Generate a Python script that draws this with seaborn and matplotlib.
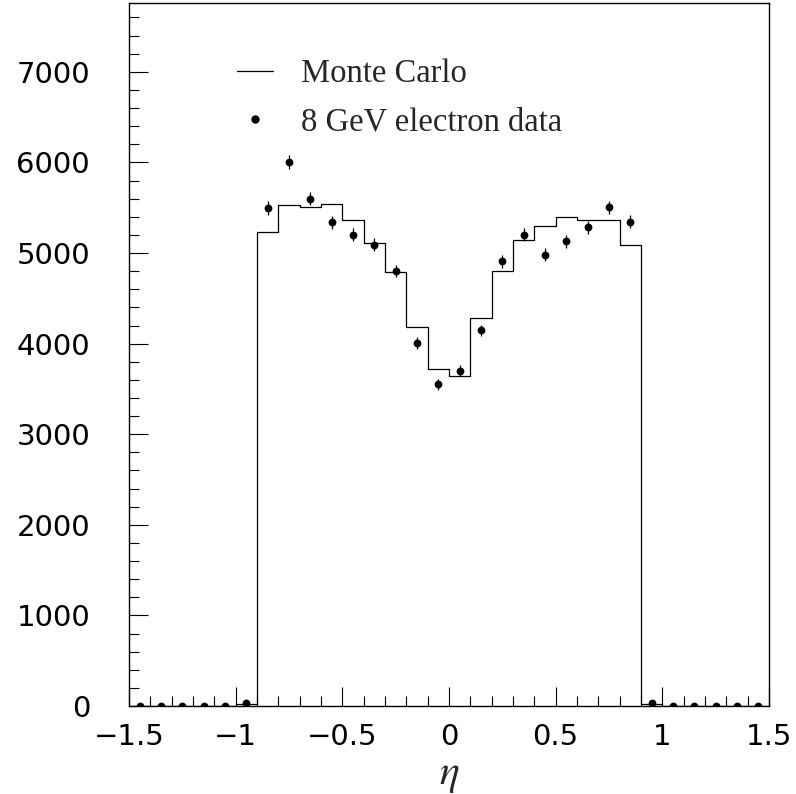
import numpy as np
import pandas as pd
import matplotlib
matplotlib.use("Agg")
import matplotlib.pyplot as plt
import seaborn as sns
from matplotlib.lines import Line2D
from matplotlib.ticker import MultipleLocator

# ---- data ----
bin_edges = [round(-1.5 + 0.1 * i, 1) for i in range(31)]
bin_centers = [round(-1.45 + 0.1 * i, 2) for i in range(30)]

monte_carlo = [0, 0, 0, 0, 0, 25,
               5235, 5535, 5510, 5545, 5360, 5110, 4790, 4185, 3715,
               3640, 4285, 4800, 5140, 5300, 5395, 5360, 5368, 5088,
               18, 0, 0, 0, 0, 0]

electron_data = [0, 0, 0, 0, 0, 35,
                 5495, 6010, 5600, 5340, 5200, 5090, 4800, 4005, 3550,
                 3700, 4145, 4910, 5200, 4980, 5130, 5285, 5505, 5345,
                 28, 0, 0, 0, 0, 0]

x_ticks = [-1.5, -1, -0.5, 0, 0.5, 1, 1.5]
x_tick_labels = ["\u22121.5", "\u22121", "\u22120.5", "0", "0.5", "1", "1.5"]
y_ticks = [0, 1000, 2000, 3000, 4000, 5000, 6000, 7000]
legend_labels = ["Monte Carlo", "8 GeV electron data"]

df = pd.DataFrame({"eta": bin_centers, "mc": monte_carlo, "data": electron_data})
df["err"] = np.sqrt(df["data"])

# ---- figure ----
sns.set_theme(style="white")
plt.rcParams["mathtext.fontset"] = "stix"
plt.rcParams["font.family"] = ["DejaVu Sans"]

fig = plt.figure(figsize=(7.96, 7.94), dpi=100)
ax = fig.add_axes([129 / 796, 1 - 706 / 794, (769 - 129) / 796, (706 - 3) / 794])

sns.histplot(data=df, x="eta", weights="mc", bins=bin_edges, element="step",
             fill=False, color="black", linewidth=0.9, ax=ax)

ax.errorbar(df["eta"], df["data"], yerr=df["err"], fmt="o", color="black",
            markersize=4.6, elinewidth=0.9, capsize=0, zorder=3)

ax.set_xlim(-1.5, 1.5)
ax.set_ylim(0, 7760)
ax.set_xticks(x_ticks)
ax.set_xticklabels(x_tick_labels)
ax.set_yticks(y_ticks)
ax.set_yticklabels([str(v) for v in y_ticks])
ax.xaxis.set_minor_locator(MultipleLocator(0.1))
ax.yaxis.set_minor_locator(MultipleLocator(200))

ax.tick_params(axis="both", which="both", direction="in", bottom=True, left=True,
               top=False, right=False, colors="black", width=0.8)
ax.tick_params(axis="both", which="major", length=14, labelsize=21)
ax.tick_params(axis="both", which="minor", length=7)
ax.tick_params(axis="x", which="major", pad=12)
ax.tick_params(axis="y", which="major", pad=28)

for s in ax.spines.values():
    s.set_visible(True)
    s.set_color("black")
    s.set_linewidth(1.0)

ax.set_ylabel("")
ax.set_xlabel(r"$\eta$", fontsize=30, labelpad=2)

handles = [Line2D([0], [0], color="black", linewidth=0.9),
           Line2D([0], [0], marker="o", color="black", linestyle="none", markersize=5)]
ax.legend(handles, legend_labels, loc="upper left", bbox_to_anchor=(0.168, 0.921),
          frameon=False, borderaxespad=0, borderpad=0, handlelength=1.13,
          handletextpad=0.84, labelspacing=0.56,
          prop={"family": "Liberation Serif", "size": 23.5})

fig.savefig("out.png", dpi=100)
